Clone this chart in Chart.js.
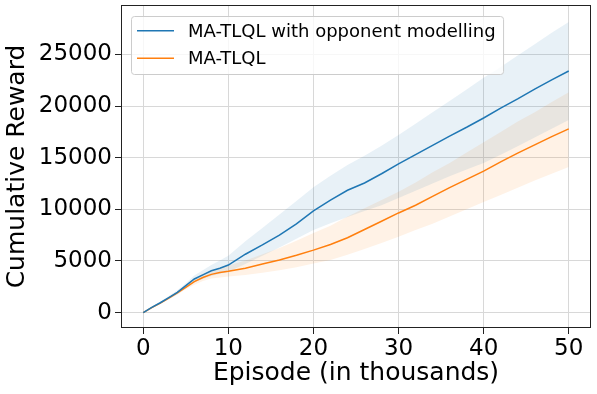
<!DOCTYPE html>
<html>
<head>
<meta charset="utf-8">
<script src="https://cdn.jsdelivr.net/npm/chart.js@4.4.0/dist/chart.umd.min.js"></script>
<style>
  html, body { margin: 0; padding: 0; background: #fff; }
  #wrap { width: 597px; height: 394px; position: relative; }
</style>
</head>
<body>
<div id="wrap"><canvas id="chart"></canvas></div>
<script>
const episodes = [0, 1, 2, 3, 4, 5, 6, 7, 8, 9, 10, 12, 14, 16, 18, 20, 22, 24, 26, 28, 30, 32, 34, 36, 38, 40, 42, 44, 46, 48, 50];

// MA-TLQL with opponent modelling
const opponentMean  = [0, 500, 950, 1450, 1950, 2600, 3250, 3650, 4050, 4300, 4600, 5650, 6550, 7500, 8600, 9850, 10900, 11850, 12550, 13450, 14400, 15300, 16200, 17100, 17950, 18850, 19800, 20700, 21650, 22550, 23400];
const opponentUpper = [0, 550, 1050, 1600, 2150, 2850, 3600, 4100, 4600, 5050, 5500, 6900, 8200, 9500, 10800, 12150, 13250, 14300, 15200, 16150, 17200, 18300, 19400, 20500, 21600, 22750, 23800, 24900, 26000, 27100, 28150];
const opponentLower = [0, 450, 850, 1300, 1750, 2350, 2900, 3250, 3550, 3750, 3950, 4700, 5500, 6300, 7150, 8000, 8650, 9250, 9850, 10400, 11100, 11800, 12500, 13200, 13850, 14500, 15300, 16100, 16950, 17800, 18650];

// MA-TLQL
const baselineMean  = [0, 480, 920, 1400, 1900, 2450, 3000, 3400, 3700, 3870, 4000, 4300, 4700, 5100, 5550, 6050, 6600, 7250, 8050, 8850, 9650, 10400, 11250, 12100, 12900, 13700, 14600, 15450, 16250, 17050, 17800];
const baselineUpper = [0, 520, 1000, 1500, 2050, 2650, 3300, 3750, 4100, 4350, 4550, 5050, 5650, 6250, 6950, 7700, 8400, 9300, 10100, 10900, 11700, 12600, 13600, 14500, 15500, 16500, 17500, 18500, 19400, 20400, 21350];
const baselineLower = [0, 440, 840, 1300, 1750, 2250, 2700, 3050, 3300, 3400, 3500, 3650, 3850, 4100, 4400, 4750, 5100, 5600, 6150, 6750, 7350, 8000, 8600, 9300, 10000, 10700, 11400, 12100, 12800, 13450, 14100];

const seriesNames = ['MA-TLQL with opponent modelling', 'MA-TLQL'];
const xTicks = [0, 10, 20, 30, 40, 50];
const yTicks = [0, 5000, 10000, 15000, 20000, 25000];

const BLUE = '#1f77b4';
const ORANGE = '#ff7f0e';
const FONT = '"DejaVu Sans", sans-serif';

const pts = (arr) => episodes.map((x, i) => ({ x: x, y: arr[i] }));

function band(arr, color, fill) {
    return {
        label: '',
        data: pts(arr),
        borderWidth: 0,
        borderColor: 'rgba(0,0,0,0)',
        backgroundColor: color,
        pointRadius: 0,
        fill: fill
    };
}

// frame (all four spines) + matplotlib-style legend box
const frameAndLegend = {
    id: 'frameAndLegend',
    afterDraw(chart) {
        const ctx = chart.ctx;
        const a = chart.chartArea;
        ctx.save();

        // legend
        ctx.font = '18px ' + FONT;
        const textX = a.left + 66;
        const textW = Math.max(...seriesNames.map(s => ctx.measureText(s).width));
        const boxL = a.left + 9.5;
        const boxT = a.top + 10.5;
        const boxW = textX - boxL + textW + 8;
        const boxH = 58;
        ctx.beginPath();
        if (ctx.roundRect) ctx.roundRect(boxL, boxT, boxW, boxH, 3);
        else ctx.rect(boxL, boxT, boxW, boxH);
        ctx.fillStyle = 'rgba(255,255,255,0.8)';
        ctx.fill();
        ctx.strokeStyle = '#cccccc';
        ctx.lineWidth = 1;
        ctx.stroke();

        const colors = [BLUE, ORANGE];
        seriesNames.forEach((name, i) => {
            const y = a.top + 24.7 + i * 27.6;
            ctx.beginPath();
            ctx.moveTo(a.left + 15, y);
            ctx.lineTo(a.left + 52, y);
            ctx.strokeStyle = colors[i];
            ctx.lineWidth = 1.6;
            ctx.stroke();
            ctx.fillStyle = '#000';
            ctx.textAlign = 'left';
            ctx.textBaseline = 'alphabetic';
            ctx.fillText(name, textX, y + 6);
        });

        // spines
        ctx.strokeStyle = '#222';
        ctx.lineWidth = 1;
        ctx.strokeRect(a.left - 0.5, a.top - 0.5, a.right - a.left + 1, a.bottom - a.top + 1);
        ctx.restore();
    }
};

const ctx = document.getElementById('chart').getContext('2d');

new Chart(ctx, {
    type: 'line',
    data: {
        datasets: [
            { label: seriesNames[0], data: pts(opponentMean), borderColor: BLUE, borderWidth: 1.5, pointRadius: 0, fill: false },
            { label: seriesNames[1], data: pts(baselineMean), borderColor: ORANGE, borderWidth: 1.5, pointRadius: 0, fill: false },
            band(opponentUpper, 'rgba(31,119,180,0.1)', '+1'),
            band(opponentLower, 'rgba(0,0,0,0)', false),
            band(baselineUpper, 'rgba(255,127,14,0.1)', '+1'),
            band(baselineLower, 'rgba(0,0,0,0)', false)
        ]
    },
    options: {
        responsive: true,
        maintainAspectRatio: false,
        animation: false,
        devicePixelRatio: 1,
        layout: { padding: { top: 6, right: 7, bottom: 0, left: 0 } },
        plugins: {
            legend: { display: false },
            tooltip: { enabled: false }
        },
        scales: {
            x: {
                type: 'linear',
                min: -2.5,
                max: 52.5,
                afterBuildTicks: (s) => { s.ticks = xTicks.map(v => ({ value: v })); },
                afterFit: (s) => { s.height = 67; s.paddingLeft = 0; s.paddingRight = 0; },
                border: { display: false },
                grid: { color: '#d8d8d8', tickColor: '#222', tickLength: 7 },
                ticks: {
                    color: '#000',
                    padding: 1,
                    maxRotation: 0,
                    callback: (v) => String(v),
                    font: { family: FONT, size: 23 }
                },
                title: {
                    display: true,
                    text: 'Episode (in thousands)',
                    color: '#000',
                    font: { family: FONT, size: 25 },
                    padding: { top: 0, bottom: 6 }
                }
            },
            y: {
                min: -1400,
                max: 29700,
                afterBuildTicks: (s) => { s.ticks = yTicks.map(v => ({ value: v })); },
                afterFit: (s) => { s.width = 122; s.paddingTop = 0; s.paddingBottom = 0; },
                border: { display: false },
                grid: { color: '#d8d8d8', tickColor: '#222', tickLength: 7 },
                ticks: {
                    color: '#000',
                    padding: 3,
                    callback: (v) => String(v),
                    font: { family: FONT, size: 23 }
                },
                title: {
                    display: true,
                    text: 'Cumulative Reward',
                    color: '#000',
                    font: { family: FONT, size: 25 },
                    padding: { top: 2, bottom: 0 }
                }
            }
        }
    },
    plugins: [frameAndLegend]
});
</script>
</body>
</html>
